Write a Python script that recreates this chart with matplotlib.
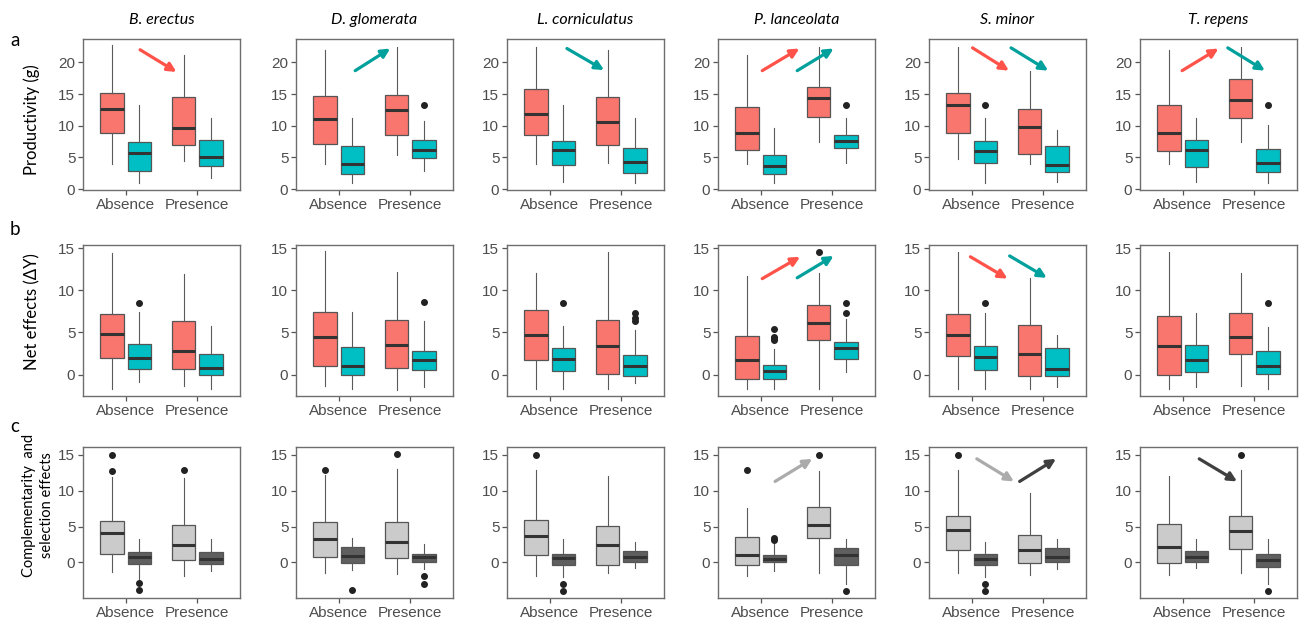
import matplotlib
matplotlib.use("Agg")
import matplotlib.pyplot as plt

# species (columns) and treatment groups
SPECIES = ["B. erectus", "D. glomerata", "L. corniculatus",
           "P. lanceolata", "S. minor", "T. repens"]
GROUPS = ["Absence", "Presence"]

# box stats per species: [abs_1, abs_2, pres_1, pres_2]
# row a: productivity (g)
prod_low = [[4.0, 1.0, 4.5, 1.8], [3.9, 1.0, 5.45, 2.86], [3.9, 1.14, 4.1, 1.0],
            [3.9, 1.0, 7.48, 4.05], [4.68, 1.0, 3.95, 1.14], [3.9, 1.14, 7.48, 1.0]]
prod_q1 = [[8.83, 2.8, 7.0, 3.64], [7.1, 2.34, 8.6, 4.94], [8.6, 3.74, 6.96, 2.55],
           [6.13, 2.34, 11.43, 6.44], [8.78, 4.16, 5.6, 2.7], [6.03, 3.48, 11.3, 2.7]]
prod_med = [[12.57, 5.71, 9.6, 5.14], [11.1, 3.9, 12.47, 6.2], [11.84, 6.13, 10.6, 4.31],
            [8.78, 3.58, 14.34, 7.58], [13.35, 6.08, 9.87, 3.74], [8.78, 6.13, 14.13, 4.1]]
prod_q3 = [[15.2, 7.48, 14.6, 7.8], [14.75, 6.86, 14.8, 7.8], [15.8, 7.64, 14.55, 6.44],
           [13.0, 5.4, 16.1, 8.6], [15.17, 7.64, 12.57, 6.86], [13.3, 7.8, 17.35, 6.34]]
prod_high = [[22.7, 13.25, 21.2, 11.17], [21.9, 11.27, 22.5, 10.75], [22.5, 13.2, 21.9, 11.3],
             [21.1, 9.7, 22.5, 11.3], [22.5, 11.3, 18.7, 9.3], [21.9, 11.3, 22.5, 10.08]]
prod_out = [[[], [], [], []], [[], [], [], [13.2]], [[], [], [], []],
            [[], [], [], [13.2]], [[], [13.2], [], []], [[], [], [], [13.2]]]

# row b: net effects (dY)
net_low = [[-1.77, -0.9, -1.37, -1.69], [-1.42, -1.7, -1.78, -1.5], [-1.73, -1.69, -1.69, -1.02],
           [-1.69, -1.69, -1.73, 0.27], [-1.73, -1.69, -1.69, -1.49], [-1.73, -1.49, -1.37, -1.69]]
net_q1 = [[1.96, 0.71, 0.71, -0.08], [0.99, 0.0, 0.75, 0.55], [1.77, 0.39, 0.08, -0.12],
          [-0.51, -0.51, 4.16, 1.81], [2.2, 0.55, -0.12, -0.12], [0.0, 0.31, 2.47, 0.08]]
net_med = [[4.8, 1.92, 2.79, 0.82], [4.5, 1.03, 3.52, 1.78], [4.67, 1.85, 3.34, 1.02],
           [1.73, 0.39, 6.09, 3.18], [4.71, 2.08, 2.47, 0.67], [3.34, 1.73, 4.48, 1.02]]
net_q3 = [[7.15, 3.6, 6.36, 2.43], [7.4, 3.24, 6.49, 2.85], [7.62, 3.14, 6.44, 2.36],
          [4.6, 1.14, 8.32, 3.89], [7.15, 3.34, 5.85, 3.1], [6.95, 3.53, 7.34, 2.83]]
net_high = [[14.5, 7.38, 11.97, 5.8], [14.7, 7.4, 12.2, 6.37], [12.13, 5.77, 14.53, 5.3],
            [11.66, 3.02, 12.05, 6.64], [14.53, 7.34, 11.46, 4.71], [14.53, 7.34, 12.05, 5.69]]
net_out = [[[], [8.52], [], []], [[], [], [], [8.59]], [[], [8.52], [], [6.4, 6.7, 7.35]],
           [[], [4.1, 4.3, 4.5, 5.45], [14.53], [7.34, 8.52]], [[], [8.52], [], []],
           [[], [], [], [8.52]]]

# row c: complementarity (light) and selection (dark) effects
cs_low = [[-1.37, -2.55, -1.82, -1.19], [-1.42, -1.1, -1.65, -0.92], [-1.83, -2.06, -1.51, -0.78],
          [-1.83, -1.19, -1.42, -2.98], [-1.51, -2.06, -1.74, -0.92], [-1.74, -0.73, -1.51, -2.98]]
cs_q1 = [[1.19, -0.27, 0.41, -0.18], [0.78, -0.14, 0.64, 0.09], [1.06, -0.32, -0.32, 0.0],
         [-0.32, 0.0, 3.35, -0.32], [1.74, -0.32, -0.14, 0.09], [-0.14, 0.0, 1.83, -0.69]]
cs_med = [[4.15, 0.82, 2.37, 0.46], [3.3, 0.87, 2.89, 0.78], [3.67, 0.6, 2.48, 0.78],
          [1.06, 0.46, 5.23, 1.01], [4.59, 0.46, 1.74, 0.83], [2.11, 0.83, 4.36, 0.32]]
cs_q3 = [[5.79, 1.46, 5.2, 1.46], [5.6, 2.11, 5.6, 1.24], [5.87, 1.15, 5.14, 1.61],
         [3.49, 1.06, 7.8, 2.02], [6.42, 1.15, 3.81, 2.02], [5.41, 1.65, 6.42, 1.15]]
cs_high = [[11.95, 3.28, 11.72, 3.28], [12.25, 3.39, 13.03, 2.61], [12.94, 3.3, 12.0, 2.84],
           [7.66, 2.98, 12.75, 3.3], [12.94, 2.84, 9.72, 3.3], [12.0, 3.3, 12.94, 3.3]]
cs_out = [[[12.72, 15.0], [-2.87, -3.88], [12.86], []], [[12.84], [-3.9], [15.14], [-1.88, -2.94]],
          [[15.05], [-2.98, -3.99], [], []], [[12.94], [3.2, 3.45], [15.05], [-3.99]],
          [[15.05], [-2.98, -3.99], [], []], [[], [], [15.05], [-3.99]]]

# trend arrows: (row, col, x0, y0, x1, y1, colour key)
ARROWS = [
    (0, 0, 1.20, 22.0, 1.71, 18.5, "r"),
    (0, 1, 1.23, 18.7, 1.72, 22.2, "t"),
    (0, 2, 1.24, 22.2, 1.76, 18.8, "t"),
    (0, 3, 1.02, 18.7, 1.54, 22.2, "r"),
    (0, 3, 1.51, 18.7, 2.02, 22.2, "t"),
    (0, 4, 1.01, 22.3, 1.52, 18.7, "r"),
    (0, 4, 1.55, 22.3, 2.07, 18.7, "t"),
    (0, 5, 0.99, 18.7, 1.50, 22.2, "r"),
    (0, 5, 1.63, 22.3, 2.15, 18.7, "t"),
    (1, 3, 1.02, 11.4, 1.55, 14.0, "r"),
    (1, 3, 1.51, 11.5, 2.02, 14.1, "t"),
    (1, 4, 0.98, 14.0, 1.50, 11.4, "r"),
    (1, 4, 1.53, 14.1, 2.05, 11.5, "t"),
    (2, 3, 1.20, 11.3, 1.72, 14.45, "l"),
    (2, 4, 1.07, 14.45, 1.59, 11.3, "l"),
    (2, 4, 1.67, 11.3, 2.18, 14.45, "d"),
    (2, 5, 1.23, 14.45, 1.76, 11.3, "d"),
]
ARROW_COL = {"r": "#FF5249", "t": "#00A09C", "l": "#ABABAB", "d": "#3F3F3F"}

ROWS = [
    dict(stats=(prod_low, prod_q1, prod_med, prod_q3, prod_high, prod_out),
         fills=["#F8766D", "#00BFC4"], ylim=(-0.15, 23.7), yticks=[0, 5, 10, 15, 20],
         label="Productivity (g)", tag="a", lab_x=32, lab_y=120, lab_size=12),
    dict(stats=(net_low, net_q1, net_med, net_q3, net_high, net_out),
         fills=["#F8766D", "#00BFC4"], ylim=(-2.55, 15.4), yticks=[0, 5, 10, 15],
         label="Net effects (\u0394Y)", tag="b", lab_x=32, lab_y=312, lab_size=12),
    dict(stats=(cs_low, cs_q1, cs_med, cs_q3, cs_high, cs_out),
         fills=["#CBCBCB", "#5F5F5F"], ylim=(-4.95, 16.1), yticks=[0, 5, 10, 15],
         label="Complementarity  and\nselection effects", tag="c",
         lab_x=38, lab_y=505, lab_size=10.5),
]

W, H = 1304, 625
COL_LEFT = [83, 296, 507, 718, 929, 1140]
ROW_TOP = [39, 245, 447]
PW, PH = 157, 151
POS = [0.81, 1.19, 1.81, 2.19]

TICK_FONT = "Liberation Sans"
TEXT_FONT = "Lato"


def main():
    fig = plt.figure(figsize=(W / 100, H / 100), dpi=100)

    for r, row in enumerate(ROWS):
        low, q1, med, q3, high, out = row["stats"]
        for c in range(len(SPECIES)):
            left = COL_LEFT[c]
            top = ROW_TOP[r]
            ax = fig.add_axes([left / W, 1 - (top + PH) / H, PW / W, PH / H])

            stats = []
            for k in range(4):
                stats.append(dict(whislo=low[c][k], q1=q1[c][k], med=med[c][k],
                                  q3=q3[c][k], whishi=high[c][k], fliers=out[c][k]))
            bp = ax.bxp(stats, positions=POS, widths=0.33, patch_artist=True,
                        showcaps=False,
                        boxprops=dict(edgecolor="#555555", linewidth=0.9),
                        medianprops=dict(color="#333333", linewidth=2.2,
                                         solid_capstyle="butt"),
                        whiskerprops=dict(color="#5A5A5A", linewidth=0.8),
                        flierprops=dict(marker="o", markerfacecolor="#222222",
                                        markeredgecolor="#222222", markersize=4))
            for k, patch in enumerate(bp["boxes"]):
                patch.set_facecolor(row["fills"][k % 2])

            ax.set_xlim(0.4, 2.6)
            ax.set_ylim(*row["ylim"])
            ax.set_xticks([1, 2])
            ax.set_xticklabels(GROUPS)
            ax.set_yticks(row["yticks"])
            ax.tick_params(axis="both", length=3.5, width=0.9, color="#555555",
                           labelcolor="#4D4D4D", labelsize=11, pad=2)
            for lab in ax.get_xticklabels() + ax.get_yticklabels():
                lab.set_fontfamily(TICK_FONT)
            for sp in ax.spines.values():
                sp.set_color("#6E6E6E")
                sp.set_linewidth(1.0)

            if r == 0:
                ax.set_title(SPECIES[c], fontfamily=TEXT_FONT, fontstyle="italic",
                             fontsize=11.5, pad=11)

            for (ar, ac, x0, y0, x1, y1, ck) in ARROWS:
                if ar == r and ac == c:
                    ax.annotate("", xy=(x1, y1), xytext=(x0, y0),
                                arrowprops=dict(arrowstyle="-|>", color=ARROW_COL[ck],
                                                lw=2.3, mutation_scale=13,
                                                shrinkA=0, shrinkB=0))

        # row tag and y label
        fig.text(10 / W, 1 - (ROW_TOP[r] + [2, -16, -21][r]) / H, row["tag"],
                 fontfamily=TEXT_FONT, fontsize=13.5, va="center", ha="left")
        fig.text(row["lab_x"] / W, 1 - row["lab_y"] / H, row["label"],
                 rotation=90, fontfamily=TEXT_FONT, fontsize=row["lab_size"],
                 va="center", ha="center", multialignment="center", linespacing=1.35)

    fig.savefig("out.png", dpi=100)


if __name__ == "__main__":
    main()
